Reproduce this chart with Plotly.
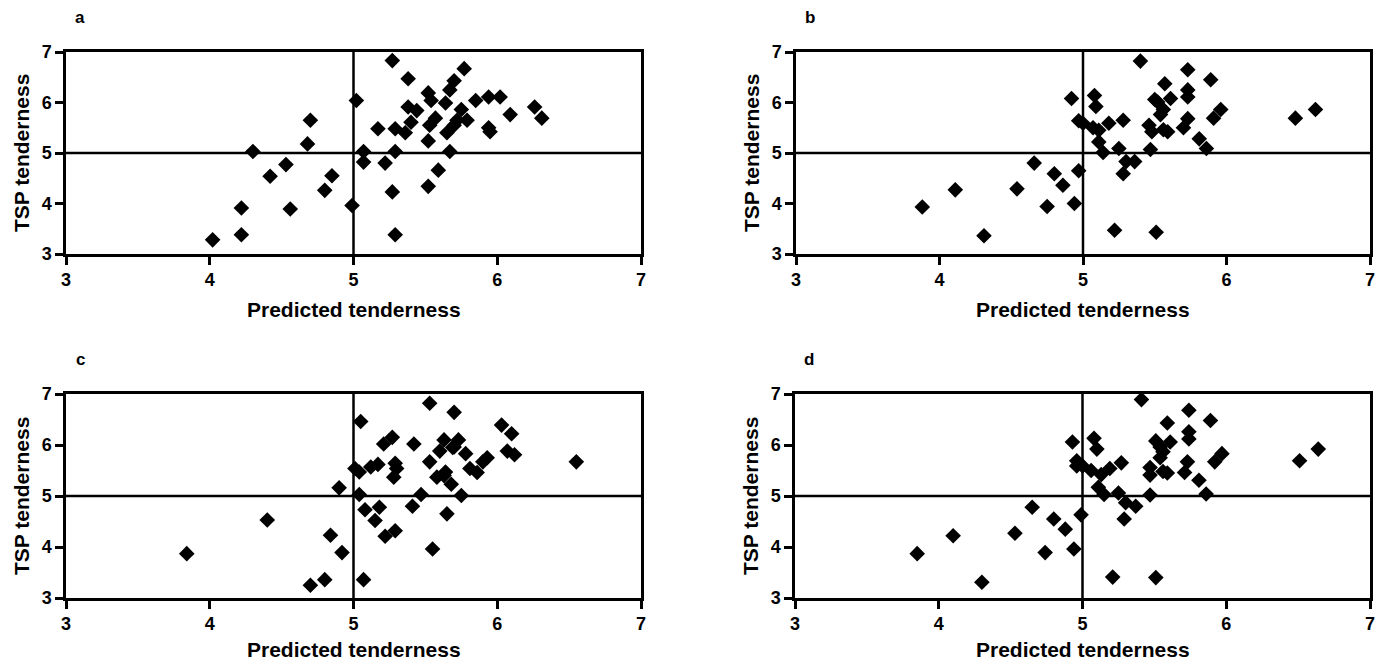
import plotly.graph_objects as go

# Panel a
a_pred = [4.02, 4.22, 4.22, 4.30, 4.42, 4.53, 4.56, 4.70, 4.68, 4.80, 4.85, 4.99, 5.02, 5.07, 5.07,
          5.17, 5.22, 5.27, 5.27, 5.29, 5.29, 5.29, 5.36, 5.38, 5.38, 5.40, 5.44, 5.52, 5.52, 5.52,
          5.53, 5.54, 5.57, 5.59, 5.64, 5.65, 5.67, 5.67, 5.70, 5.70, 5.72, 5.75, 5.77, 5.79, 5.85,
          5.94, 5.94, 5.95, 6.02, 6.09, 6.26, 6.31]
a_tsp = [3.28, 3.38, 3.91, 5.03, 4.54, 4.77, 3.89, 5.65, 5.18, 4.26, 4.55, 3.96, 6.04, 5.03, 4.82,
         5.48, 4.80, 6.83, 4.23, 5.48, 5.03, 3.38, 5.40, 6.47, 5.91, 5.61, 5.84, 6.19, 5.24, 4.34,
         5.55, 6.04, 5.69, 4.66, 5.99, 5.40, 5.03, 6.25, 6.43, 5.55, 5.65, 5.86, 6.67, 5.65, 6.04,
         6.11, 5.50, 5.42, 6.11, 5.76, 5.91, 5.69]

# Panel b
b_pred = [3.88, 4.11, 4.31, 4.54, 4.66, 4.75, 4.80, 4.86, 4.94, 4.97, 4.92, 4.97, 5.00, 5.08, 5.09,
          5.07, 5.11, 5.11, 5.14, 5.18, 5.22, 5.25, 5.28, 5.28, 5.30, 5.36, 5.40, 5.47, 5.46, 5.48,
          5.50, 5.51, 5.52, 5.54, 5.56, 5.57, 5.56, 5.59, 5.61, 5.70, 5.73, 5.73, 5.73, 5.73, 5.81,
          5.86, 5.89, 5.91, 5.96, 6.48, 6.62]
b_tsp = [3.93, 4.27, 3.36, 4.29, 4.80, 3.94, 4.59, 4.36, 4.00, 4.65, 6.08, 5.64, 5.59, 6.14, 5.92,
         5.50, 5.45, 5.22, 5.01, 5.59, 3.47, 5.09, 5.65, 4.59, 4.83, 4.83, 6.82, 5.07, 5.55, 5.42,
         6.06, 3.43, 6.01, 5.76, 5.86, 6.37, 5.46, 5.42, 6.08, 5.50, 6.25, 6.11, 6.65, 5.68, 5.28,
         5.09, 6.45, 5.69, 5.86, 5.69, 5.86]

# Panel c
c_pred = [3.84, 4.40, 4.70, 4.80, 4.84, 4.90, 4.92, 5.01, 5.04, 5.05, 5.04, 5.07, 5.08, 5.12, 5.15,
          5.17, 5.18, 5.21, 5.22, 5.27, 5.28, 5.29, 5.30, 5.29, 5.41, 5.42, 5.47, 5.53, 5.53, 5.55,
          5.58, 5.60, 5.63, 5.63, 5.64, 5.65, 5.68, 5.69, 5.70, 5.73, 5.70, 5.75, 5.78, 5.81, 5.86,
          5.90, 5.93, 6.03, 6.07, 6.10, 6.12, 6.55]
c_tsp = [3.87, 4.53, 3.25, 3.36, 4.23, 5.16, 3.89, 5.54, 5.47, 6.46, 5.03, 3.36, 4.73, 5.57, 4.52,
         5.62, 4.78, 6.02, 4.21, 6.15, 5.37, 5.64, 5.54, 4.32, 4.80, 6.02, 5.03, 5.67, 6.82, 3.96,
         5.37, 5.88, 6.10, 5.40, 5.47, 4.65, 5.23, 5.95, 6.64, 6.10, 5.96, 5.01, 5.83, 5.54, 5.46,
         5.67, 5.75, 6.39, 5.88, 6.22, 5.81, 5.67]

# Panel d
d_pred = [3.85, 4.10, 4.30, 4.53, 4.65, 4.74, 4.80, 4.88, 4.94, 4.93, 4.96, 4.96, 4.99, 5.00, 5.06,
          5.08, 5.10, 5.13, 5.11, 5.15, 5.19, 5.21, 5.25, 5.27, 5.29, 5.30, 5.37, 5.41, 5.47, 5.47,
          5.47, 5.51, 5.51, 5.54, 5.54, 5.56, 5.56, 5.59, 5.59, 5.61, 5.71, 5.74, 5.74, 5.74, 5.73,
          5.81, 5.86, 5.89, 5.92, 5.97, 6.51, 6.64]
d_tsp = [3.87, 4.22, 3.31, 4.27, 4.78, 3.89, 4.55, 4.35, 3.96, 6.06, 5.69, 5.59, 4.63, 5.59, 5.50,
         6.13, 5.92, 5.42, 5.17, 5.03, 5.54, 3.41, 5.06, 5.65, 4.55, 4.87, 4.80, 6.89, 5.02, 5.56,
         5.41, 3.40, 6.08, 5.75, 5.96, 5.87, 5.48, 5.45, 6.43, 6.06, 5.46, 6.68, 6.26, 6.12, 5.67,
         5.31, 5.04, 6.48, 5.67, 5.83, 5.69, 5.92]

panel_labels = ["a", "b", "c", "d"]
tick_vals = [3, 4, 5, 6, 7]
ref_value = 5
axis_range = [3, 7]
x_title = "Predicted tenderness"
y_title = "TSP tenderness"

W, H = 1384, 663
# plot-area boxes in pixels: (left, right, top, bottom), and x-title centre row
boxes = [(66, 641, 52, 254), (796, 1370, 52, 254), (66, 641, 394, 598), (795, 1370, 394, 598)]
xtitle_y = [309, 309, 649, 649]
data = [(a_pred, a_tsp), (b_pred, b_tsp), (c_pred, c_tsp), (d_pred, d_tsp)]

fig = go.Figure()
font_main = "Liberation Sans, Arial, sans-serif"
shapes = []
annotations = []
for i, ((xs, ys), (l, r, t, b), lab, ty) in enumerate(zip(data, boxes, panel_labels, xtitle_y)):
    n = i + 1
    xa = "x" if n == 1 else f"x{n}"
    ya = "y" if n == 1 else f"y{n}"
    fig.add_trace(go.Scatter(x=xs, y=ys, mode="markers", xaxis=xa, yaxis=ya,
                             marker=dict(symbol="diamond", size=12, color="black",
                                         line=dict(width=0)),
                             showlegend=False, cliponaxis=False, hoverinfo="skip"))
    axcommon = dict(range=axis_range, tickvals=tick_vals, showgrid=False, zeroline=False,
                    showline=True, linecolor="black", linewidth=2.5, mirror=True,
                    ticks="outside", ticklen=8, tickwidth=2.5, tickcolor="black", automargin=False,
                    tickfont=dict(family=font_main, size=18, color="black", weight="bold"))
    fig.layout[f"xaxis{'' if n == 1 else n}"] = dict(axcommon, domain=[l / W, r / W], anchor=ya)
    fig.layout[f"yaxis{'' if n == 1 else n}"] = dict(axcommon, domain=[1 - b / H, 1 - t / H], anchor=xa)
    shapes.append(dict(type="line", xref=xa, yref=ya, x0=ref_value, x1=ref_value,
                       y0=axis_range[0], y1=axis_range[1], line=dict(color="black", width=2.5)))
    shapes.append(dict(type="line", xref=xa, yref=ya, y0=ref_value, y1=ref_value,
                       x0=axis_range[0], x1=axis_range[1], line=dict(color="black", width=2.5)))
    annotations.append(dict(text=x_title, xref="paper", yref="paper", x=(l + r) / 2 / W,
                            y=1 - ty / H, showarrow=False, xanchor="center", yanchor="middle",
                            font=dict(family=font_main, size=21, color="black", weight="bold")))
    annotations.append(dict(text=y_title, xref="paper", yref="paper", x=(l - 45) / W,
                            y=1 - ((t + b) / 2) / H, showarrow=False, textangle=-90,
                            xanchor="center", yanchor="middle",
                            font=dict(family=font_main, size=21, color="black", weight="bold")))
    annotations.append(dict(text=lab, xref="paper", yref="paper", x=(l + 14) / W,
                            y=1 - (t - 35) / H, showarrow=False, xanchor="center", yanchor="middle",
                            font=dict(family=font_main, size=17, color="black", weight="bold")))

fig.update_layout(width=W, height=H, margin=dict(l=0, r=0, t=0, b=0, autoexpand=False),
                  plot_bgcolor="white", paper_bgcolor="white", hovermode=False,
                  shapes=shapes, annotations=annotations)
post = ("document.documentElement.style.margin='0';document.documentElement.style.overflow='hidden';"
        "document.body.style.margin='0';document.body.style.overflow='hidden';"
        "var gd=document.getElementById('{plot_id}');gd.style.position='fixed';"
        "gd.style.left='0px';gd.style.top='0px';")
fig.write_html("out.html", post_script=post, config={"displayModeBar": False})
